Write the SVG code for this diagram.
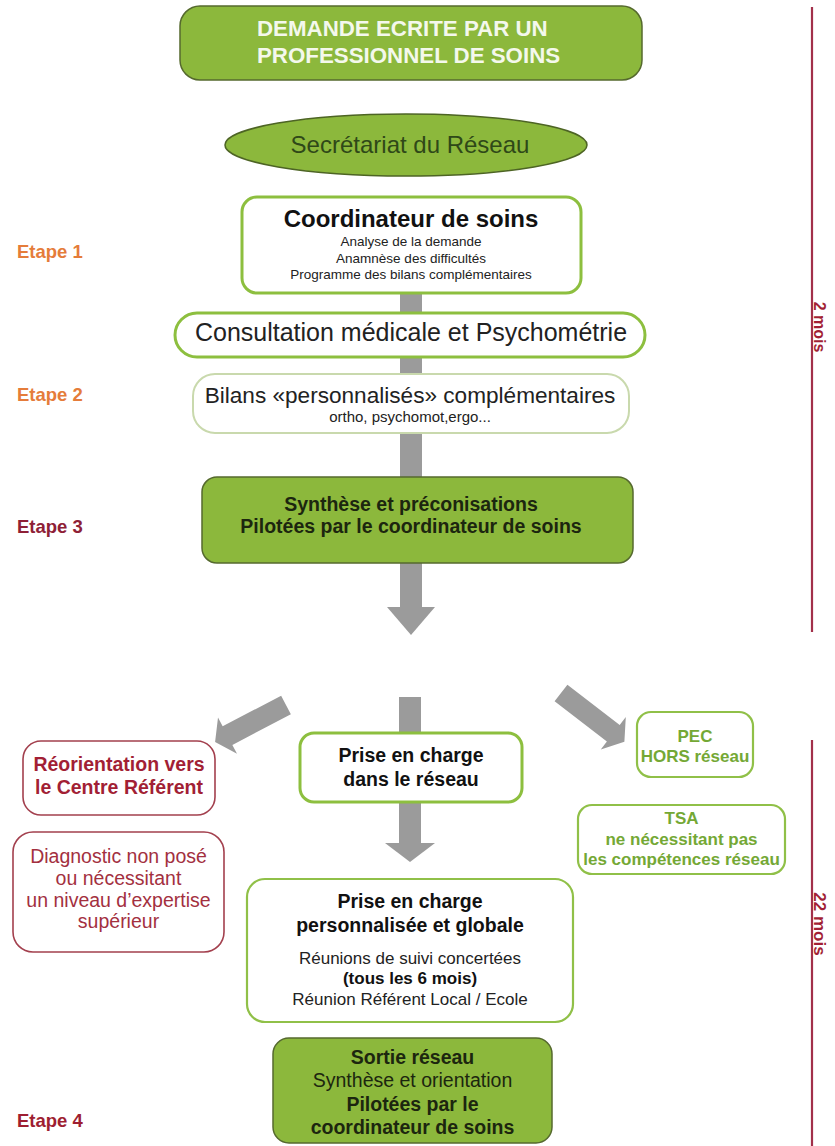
<svg xmlns="http://www.w3.org/2000/svg" width="835" height="1146" viewBox="0 0 835 1146">
<defs>
<style>
text{font-family:"Liberation Sans",Arial,sans-serif;text-anchor:middle}
.b{font-weight:bold}
.gfill{fill:#8cb83c;stroke:#55692e;stroke-width:1.5}
.wbox{fill:#ffffff;stroke:#8dbf3f;stroke-width:3}
.lbox{fill:#ffffff;stroke:#c9d9ad;stroke-width:2}
.rbox{fill:#ffffff;stroke:#a3404e;stroke-width:1.6}
.gr{fill:#ffffff;stroke:#90c048;stroke-width:2.2}
.arr{fill:#9b9b9b}
.red{fill:#a21f35}
.grn{fill:#74a835}
.dk{fill:#1c260f}
.et{font-weight:bold;font-size:18.5px;text-anchor:start}
.tl{stroke:#a2304a;stroke-width:2.2}
</style>
<polygon id="blk" points="0,-10.5 66,-10.5 66,-20.5 80,0 66,20.5 66,10.5 0,10.5"/>
</defs>
<g id="connectors">
<rect class="arr" x="400" y="290" width="22" height="318"/>
<polygon class="arr" points="387,607 435,607 411,635"/>
<rect class="arr" x="399" y="697" width="22" height="147"/>
<polygon class="arr" points="385,843 435,843 410,862"/>
<use href="#blk" class="arr" transform="translate(286,705) rotate(152.4)"/>
<use href="#blk" class="arr" transform="translate(561,693) rotate(37.6)"/>
</g>
<g id="timeline">
<line class="tl" x1="812" y1="7" x2="812" y2="632"/>
<line class="tl" x1="812" y1="740" x2="812" y2="1146"/>
<text class="b red" font-size="16" transform="translate(814,327) rotate(90)">2 mois</text>
<text class="b red" font-size="17" transform="translate(814,924) rotate(90)">22 mois</text>
</g>
<g id="etapes">
<text class="et" x="17" y="258" fill="#e57c3a">Etape 1</text>
<text class="et" x="17" y="401" fill="#e57c3a">Etape 2</text>
<text class="et" x="17" y="533" fill="#8e2036">Etape 3</text>
<text class="et" x="17" y="1127" fill="#9e1e31">Etape 4</text>
</g>
<g id="demande">
<rect class="gfill" x="180" y="6" width="462" height="74" rx="20"/>
<text class="b" font-size="22.3" fill="#f4f8ec" style="text-anchor:start" x="257" y="36">DEMANDE ECRITE PAR UN</text>
<text class="b" font-size="22.3" fill="#f4f8ec" style="text-anchor:start" x="257" y="63">PROFESSIONNEL DE SOINS</text>
</g>
<g id="secretariat">
<ellipse cx="406" cy="145" rx="181" ry="31" fill="#8cb83c" stroke="#4d6424" stroke-width="1.5"/>
<text font-size="24" fill="#2f4818" x="410" y="153">Secrétariat du Réseau</text>
</g>
<g id="coordinateur">
<rect class="wbox" x="242" y="197" width="339" height="96" rx="15"/>
<text class="b" font-size="24" fill="#111" x="411" y="227">Coordinateur de soins</text>
<text font-size="13.5" fill="#222" x="411" y="246">Analyse de la demande</text>
<text font-size="13.5" fill="#222" x="411" y="262.5">Anamnèse des difficultés</text>
<text font-size="13.5" fill="#222" x="411" y="279">Programme des bilans complémentaires</text>
</g>
<g id="consultation">
<rect class="wbox" x="175" y="313" width="470" height="44" rx="22"/>
<text font-size="25" fill="#222" x="411" y="341">Consultation médicale et Psychométrie</text>
</g>
<g id="bilans">
<rect class="lbox" x="193" y="374" width="436" height="59" rx="22"/>
<text font-size="22.6" fill="#222" x="410" y="403">Bilans «personnalisés» complémentaires</text>
<text font-size="15" fill="#222" x="410" y="422">ortho, psychomot,ergo...</text>
</g>
<g id="synthese">
<rect class="gfill" x="202" y="477" width="431" height="86" rx="15"/>
<text class="b dk" font-size="19.5" x="411" y="511">Synthèse et préconisations</text>
<text class="b dk" font-size="19.5" x="411" y="533">Pilotées par le coordinateur de soins</text>
</g>
<g id="prise-reseau">
<rect class="wbox" x="300" y="733" width="222" height="69" rx="14"/>
<text class="b" font-size="19.5" fill="#111" x="411" y="762">Prise en charge</text>
<text class="b" font-size="19.5" fill="#111" x="411" y="786">dans le réseau</text>
</g>
<g id="reorientation">
<rect class="rbox" x="23" y="741" width="192" height="74" rx="18"/>
<text class="b red" font-size="19.5" x="119" y="771">Réorientation vers</text>
<text class="b red" font-size="19.5" x="119" y="794">le Centre Référent</text>
</g>
<g id="diagnostic">
<rect class="rbox" x="13" y="832" width="211" height="120" rx="20"/>
<text font-size="19.5" fill="#a3303f" x="118.5" y="863">Diagnostic non posé</text>
<text font-size="19.5" fill="#a3303f" x="118.5" y="885">ou nécessitant</text>
<text font-size="19.5" fill="#a3303f" x="118.5" y="907">un niveau d’expertise</text>
<text font-size="19.5" fill="#a3303f" x="118.5" y="928">supérieur</text>
</g>
<g id="pec-hors">
<rect class="gr" x="637" y="712" width="116" height="65" rx="14"/>
<text class="b grn" font-size="17" x="695" y="742">PEC</text>
<text class="b grn" font-size="17" x="695" y="762">HORS réseau</text>
</g>
<g id="tsa">
<rect class="gr" x="578" y="805" width="207" height="69" rx="14"/>
<text class="b grn" font-size="17" x="681.5" y="824">TSA</text>
<text class="b grn" font-size="17" x="681.5" y="845">ne nécessitant pas</text>
<text class="b grn" font-size="17" x="681.5" y="865">les compétences réseau</text>
</g>
<g id="prise-globale">
<rect class="gr" x="247" y="879" width="326" height="143" rx="18" stroke="#a6c86a" stroke-width="2.5"/>
<text class="b" font-size="19.5" fill="#111" x="410" y="908">Prise en charge</text>
<text class="b" font-size="19.5" fill="#111" x="410" y="932">personnalisée et globale</text>
<text font-size="17" fill="#222" x="410" y="964">Réunions de suivi concertées</text>
<text class="b" font-size="17" fill="#111" x="410" y="984">(tous les 6 mois)</text>
<text font-size="17" fill="#222" x="410" y="1005">Réunion Référent Local / Ecole</text>
</g>
<g id="sortie">
<rect class="gfill" x="273" y="1038" width="279" height="105" rx="16"/>
<text class="b dk" font-size="19.5" x="412.5" y="1064">Sortie réseau</text>
<text class="dk" font-size="19.5" x="412.5" y="1087">Synthèse et orientation</text>
<text class="b dk" font-size="19.5" x="412.5" y="1111">Pilotées par le</text>
<text class="b dk" font-size="19.5" x="412.5" y="1134">coordinateur de soins</text>
</g>
</svg>
